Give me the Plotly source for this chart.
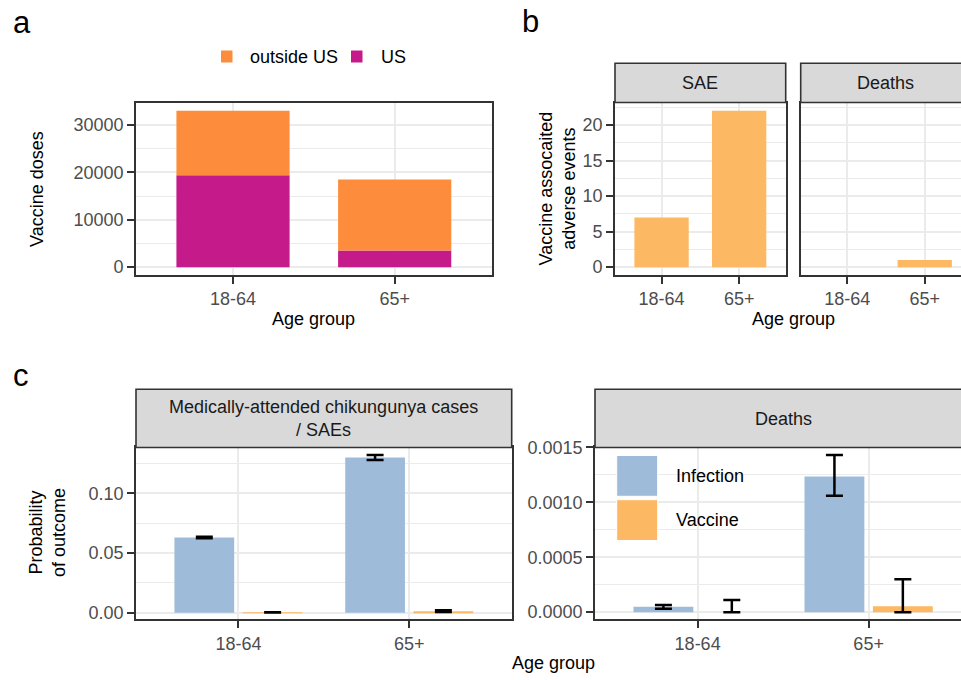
import plotly.graph_objects as go

# ---- data ----
age_groups = ["18-64", "65+"]

# a: vaccine doses by region
doses_us = [19400, 3500]
doses_outside_us = [13600, 15000]

# b: vaccine-associated adverse events
sae_counts = [7, 22]
death_counts = [0, 1]

# c: probability of outcome (point estimate, lower, upper)
inf_sae = [0.063, 0.130]
inf_sae_lo = [0.0625, 0.128]
inf_sae_hi = [0.0637, 0.1322]
vac_sae = [0.0002, 0.0012]
vac_sae_lo = [0.0001, 0.0006]
vac_sae_hi = [0.0004, 0.0021]

inf_death = [0.00005, 0.001235]
inf_death_lo = [0.00003, 0.00106]
inf_death_hi = [0.000066, 0.00143]
vac_death = [0.0, 0.000054]
vac_death_lo = [0.0, 0.0]
vac_death_hi = [0.00011, 0.0003]

# ---- styling ----
W, H = 961, 680
FONT = "Liberation Sans"
C_OUT = "#FD8D3C"
C_US = "#C51B8A"
C_SAE = "#FDB863"
C_INF = "#9EBCDA"
C_VAC = "#FDB863"
BORDER = "#333333"
GRID = "#EBEBEB"
TICKTXT = "#4D4D4D"


def fx(p):
    return p / W


def fy(p):
    return 1 - p / H


def err(v, lo, hi):
    return dict(type="data", symmetric=False,
                array=[h - x for x, h in zip(v, hi)],
                arrayminus=[x - l for x, l in zip(v, lo)],
                color="black", thickness=2.5, width=8.5)


fig = go.Figure()

# panel a: stacked doses
fig.add_trace(go.Bar(x=age_groups, y=doses_us, width=0.7, marker=dict(color=C_US, line=dict(width=0)),
                     xaxis="x", yaxis="y", name="US"))
fig.add_trace(go.Bar(x=age_groups, y=doses_outside_us, base=doses_us, width=0.7,
                     marker=dict(color=C_OUT, line=dict(width=0)),
                     xaxis="x", yaxis="y", name="outside US"))

# panel b: SAE and deaths
fig.add_trace(go.Bar(x=age_groups, y=sae_counts, width=0.7, marker=dict(color=C_SAE, line=dict(width=0)),
                     xaxis="x2", yaxis="y2", name="SAE"))
fig.add_trace(go.Bar(x=age_groups, y=death_counts, width=0.7, marker=dict(color=C_SAE, line=dict(width=0)),
                     xaxis="x3", yaxis="y3", name="Deaths"))

# panel c: dodged probabilities with intervals
dodge_w = 0.35
for xa, ya, inf, ilo, ihi, vac, vlo, vhi in [
    ("x4", "y4", inf_sae, inf_sae_lo, inf_sae_hi, vac_sae, vac_sae_lo, vac_sae_hi),
    ("x5", "y5", inf_death, inf_death_lo, inf_death_hi, vac_death, vac_death_lo, vac_death_hi),
]:
    fig.add_trace(go.Bar(x=age_groups, y=inf, width=dodge_w, offset=-0.375,
                         marker=dict(color=C_INF, line=dict(width=0)),
                         error_y=err(inf, ilo, ihi), xaxis=xa, yaxis=ya, name="Infection"))
    fig.add_trace(go.Bar(x=age_groups, y=vac, width=dodge_w, offset=0.025,
                         marker=dict(color=C_VAC, line=dict(width=0)),
                         error_y=err(vac, vlo, vhi), xaxis=xa, yaxis=ya, name="Vaccine"))

tickfont = dict(family=FONT, size=18, color=TICKTXT)


def xaxis(x0, x1, anchor, xmax=1.6):
    return dict(domain=[fx(x0), fx(x1)], anchor=anchor, range=[-0.6, xmax], type="category",
                showgrid=True, gridcolor=GRID, gridwidth=2, automargin=False,
                showline=True, mirror=True, linecolor=BORDER, linewidth=1.6,
                ticks="outside", ticklen=7, tickwidth=2.2, tickcolor=BORDER,
                tickfont=tickfont, fixedrange=True)


def yaxis(y0, y1, anchor, rng, dtick, minor, labels=True, mirror=True, fmt=None):
    d = dict(domain=[fy(y1), fy(y0)], anchor=anchor, range=rng, dtick=dtick, tick0=0,
             showgrid=True, gridcolor=GRID, gridwidth=2, zeroline=False, automargin=False,
             minor=dict(dtick=minor, tick0=0, showgrid=True, gridcolor=GRID, gridwidth=1, ticks=""),
             showline=True, mirror=mirror, linecolor=BORDER, linewidth=1.6,
             ticks="outside" if labels else "", ticklen=7, tickwidth=2.2, tickcolor=BORDER,
             showticklabels=labels, tickfont=tickfont, fixedrange=True)
    if fmt:
        d["tickformat"] = fmt
    return d


layout = dict(
    width=W, height=H, autosize=False, margin=dict(l=0, r=0, t=0, b=0, pad=0, autoexpand=False),
    paper_bgcolor="white", plot_bgcolor="white", barmode="overlay", showlegend=False,
    font=dict(family=FONT, color="black"),
    xaxis=xaxis(136, 491.7, "y"),
    yaxis=yaxis(103, 275, "x", [-1650, 34650], 10000, 5000, fmt="d"),
    xaxis2=xaxis(615, 785.7, "y2"),
    yaxis2=yaxis(103, 275, "x2", [-1.1, 23.1], 5, 2.5),
    xaxis3=xaxis(800.7, 961, "y3", xmax=1.468),
    yaxis3=yaxis(103, 275, "x3", [-1.1, 23.1], 5, 2.5, labels=False, mirror=False),
    xaxis4=xaxis(136, 511.7, "y4"),
    yaxis4=yaxis(447.3, 619.3, "x4", [-0.0055, 0.1386], 0.05, 0.025, fmt=".2f"),
    xaxis5=xaxis(595, 961, "y5", xmax=1.54),
    yaxis5=yaxis(447.3, 619.3, "x5", [-0.000065, 0.0015], 0.0005, 0.00025, mirror=False, fmt=".4f"),
)
fig.update_layout(**layout)

shapes = []
annotations = []


def strip(x0, x1, y0, y1):
    shapes.append(dict(type="rect", xref="paper", yref="paper", x0=fx(x0), x1=fx(x1),
                       y0=fy(y1), y1=fy(y0), fillcolor="#D9D9D9",
                       line=dict(color=BORDER, width=1.6), layer="above"))


def text(x, y, s, size=18, color="black", xanchor="center", yanchor="middle", angle=0):
    annotations.append(dict(x=fx(x), y=fy(y), xref="paper", yref="paper", text=s, showarrow=False,
                            xanchor=xanchor, yanchor=yanchor, textangle=angle,
                            font=dict(family=FONT, size=size, color=color)))


def key(x0, x1, y0, y1, color, edge=None):
    shapes.append(dict(type="rect", xref="paper", yref="paper", x0=fx(x0), x1=fx(x1),
                       y0=fy(y1), y1=fy(y0), fillcolor=color,
                       line=dict(color=edge or color, width=1 if edge else 0), layer="above"))


# facet strips
strip(615, 785.7, 63.3, 102.5)
strip(800.7, 975, 63.3, 102.5)
strip(136, 511.7, 389.3, 447.5)
strip(595, 975, 389.3, 447.5)
text(700.3, 82.5, "SAE", color="#1A1A1A")
text(885.8, 82.5, "Deaths", color="#1A1A1A")
text(323.8, 418.5, "Medically-attended chikungunya cases<br>/ SAEs", color="#1A1A1A")
text(783, 418.5, "Deaths", color="#1A1A1A")

# panel tags
text(11, 23, "a", size=31, xanchor="left")
text(520, 21, "b", size=31, xanchor="left")
text(11, 375, "c", size=31, xanchor="left")

# axis titles
text(313.8, 319, "Age group")
text(793, 319, "Age group")
text(553, 663, "Age group")
text(37, 189, "Vaccine doses", angle=-90)
text(556.5, 189, "Vaccine assocaited<br>adverse events", angle=-90)
text(47, 533, "Probability<br>of outcome", angle=-90)

# legend for panel a
key(221, 232.5, 50.5, 62.5, C_OUT)
text(248, 57, "outside US", xanchor="left")
key(351, 362.5, 50.5, 62.5, C_US)
text(379, 57, "US", xanchor="left")

# legend for panel c
key(616.7, 657.7, 455.5, 496.3, C_INF, edge="white")
key(616.7, 657.7, 499.7, 540.5, C_VAC, edge="white")
text(674, 476, "Infection", xanchor="left")
text(674, 520, "Vaccine", xanchor="left")

fig.update_layout(shapes=shapes, annotations=annotations)
fig.write_html("out.html", config=dict(displayModeBar=False))
